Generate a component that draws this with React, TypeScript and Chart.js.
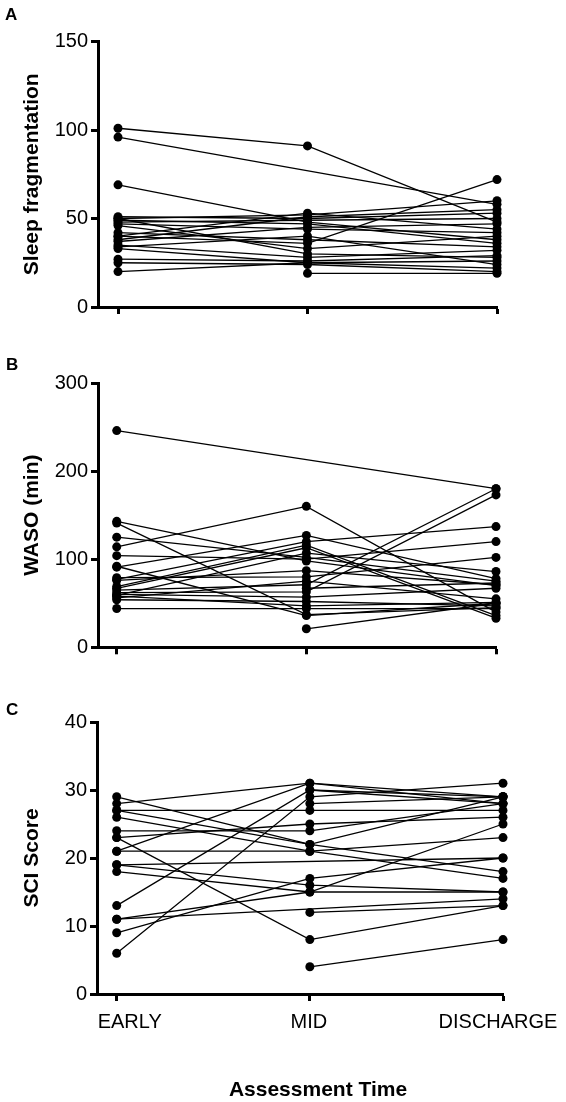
import React, { useEffect, useRef } from "react";
import { Chart, registerables } from "chart.js";

Chart.register(...registerables);

// ---------- DATA ----------
const timeLabels = ["EARLY", "MID", "DISCHARGE"];

// Panel A: Sleep fragmentation (one entry per participant)
const fragEarly = [101, 96, 69, 51, 50, 50, 49, 48, 47, 46, 42, 40, 40, 38, 37, 35, 34, 33, 27, 25, 20, null];
const fragMid = [91, null, 48, 50, 30, 52, 47, 49, 44, 33, 38, 36, 53, 51, 45, 28, 40, 25, 26, 24, 25, 19];
const fragDischarge = [48, 58, 38, 53, 28, 60, 36, 50, 42, 40, 34, 72, 44, 55, 47, 32, 24, 22, 29, 20, 26, 19];

// Panel B: WASO (min)
const wasoEarly = [246, 143, 141, 125, 114, 104, 91, 92, 79, 77, 69, 65, 62, 59, 56, 54, 44, 60, 76, 67, 58, null, null];
const wasoMid = [null, 98, 37, 102, 160, 100, 127, 36, 80, 120, 116, 71, 63, 107, 75, 52, 44, 57, 87, 113, 47, 21, 67];
const wasoDischarge = [180, 70, 45, 75, 40, 120, 78, 50, 102, 137, 36, 180, 173, 86, 55, 47, 44, 67, 71, 33, 51, 50, 73];

// Panel C: SCI score
const sciEarly = [28, 29, 27, 27, 26, 24, 23, 23, 21, 21, 19, 19, 18, 13, 11, 11, 9, 6, null, null, null, null];
const sciMid = [31, 22, 27, 22, 21, 24, 25, 8, 31, 21, null, 16, 15, 30, 15, null, 17, 29, 12, 4, 28, 30];
const sciDischarge = [29, 18, 27, 29, 17, 28, 26, 13, 28, 23, 20, 15, 15, 29, 25, 14, 20, 31, 13, 8, 29, 28];

// ---------- STYLE / LAYOUT ----------
const FONT = '"Liberation Sans", Arial, Helvetica, sans-serif';
const W = 566;

type Series = (number | null)[];

interface PanelProps {
  top: number;
  height: number;
  axisLeft: number;
  axisRight: number;
  plotTop: number;
  plotBottom: number;
  yMax: number;
  yStep: number;
  xMin: number;
  yTitle: string;
  early: Series;
  mid: Series;
  discharge: Series;
  showX: boolean;
}

function Panel(p: PanelProps) {
  const ref = useRef<HTMLCanvasElement | null>(null);

  useEffect(() => {
    const canvas = ref.current;
    if (!canvas) return;

    const datasets = p.early.map((_, i) => {
      const vals = [p.early[i], p.mid[i], p.discharge[i]];
      const pts = vals
        .map((v, k) => (v == null ? null : { x: k, y: v }))
        .filter((d) => d !== null) as { x: number; y: number }[];
      return {
        data: pts,
        borderColor: "#000",
        backgroundColor: "#000",
        borderWidth: 1.3,
        pointRadius: 4.5,
        pointBorderWidth: 0,
        pointBackgroundColor: "#000",
        pointHoverRadius: 4.5,
        tension: 0,
        fill: false,
        clip: false as any,
      };
    });

    const xH = p.showX ? p.height - p.plotBottom : 10;

    const plugins: any[] = [];
    if (p.showX) {
      const shifts = [13, -1, -5];
      plugins.push({
        id: "xLabels",
        afterDraw(chart: any) {
          const ctx = chart.ctx;
          const xs = chart.scales.x;
          ctx.save();
          ctx.fillStyle = "#000";
          ctx.textAlign = "center";
          ctx.textBaseline = "middle";
          ctx.font = `20px ${FONT}`;
          timeLabels.forEach((l, i) => {
            ctx.fillText(l, xs.getPixelForValue(i) + shifts[i], 332);
          });
          ctx.font = `bold 21px ${FONT}`;
          ctx.fillText("Assessment Time", 318, 400);
          ctx.restore();
        },
      });
    }

    const chart = new Chart(canvas, {
      type: "line",
      data: { datasets: datasets as any },
      options: {
        animation: false,
        responsive: false,
        maintainAspectRatio: false,
        events: [],
        layout: {
          padding: {
            left: 0,
            top: p.plotTop,
            right: W - p.axisRight,
            bottom: p.height - p.plotBottom - xH,
          },
        },
        plugins: {
          legend: { display: false },
          tooltip: { enabled: false },
        },
        scales: {
          x: {
            type: "linear",
            min: p.xMin,
            max: 2,
            afterBuildTicks: (s: any) => {
              s.ticks = [{ value: 0 }, { value: 1 }, { value: 2 }];
            },
            ticks: { display: false },
            grid: {
              drawOnChartArea: false,
              drawTicks: true,
              tickLength: 7,
              tickWidth: 3,
              tickColor: "#000",
              color: "#000",
            },
            border: { display: true, width: 3, color: "#000" },
            afterFit: (s: any) => {
              s.height = xH;
              s.paddingLeft = 0;
              s.paddingRight = 0;
            },
          },
          y: {
            type: "linear",
            min: 0,
            max: p.yMax,
            ticks: {
              stepSize: p.yStep,
              color: "#000",
              font: { family: FONT, size: 20 },
              padding: 3,
            },
            grid: {
              drawOnChartArea: false,
              drawTicks: true,
              tickLength: 7,
              tickWidth: 3,
              tickColor: "#000",
              color: "#000",
            },
            border: { display: true, width: 3, color: "#000" },
            title: {
              display: true,
              text: p.yTitle,
              color: "#000",
              font: { family: FONT, size: 21, weight: "bold" },
              padding: { top: 20, bottom: 0 },
            },
            afterFit: (s: any) => {
              s.width = p.axisLeft;
            },
          },
        },
      } as any,
      plugins,
    });

    return () => chart.destroy();
  }, []);

  return (
    <canvas
      ref={ref}
      width={W}
      height={p.height}
      style={{ position: "absolute", left: 0, top: p.top, width: W, height: p.height }}
    />
  );
}

const letterStyle: React.CSSProperties = {
  position: "absolute",
  font: `bold 17px ${FONT}`,
  lineHeight: "17px",
  color: "#000",
};

export default function App() {
  return (
    <div
      style={{
        position: "absolute",
        left: 0,
        top: 0,
        width: W,
        height: 1102,
        background: "#fff",
        overflow: "hidden",
      }}
    >
      <Panel
        top={0}
        height={330}
        axisLeft={98}
        axisRight={497}
        plotTop={41.5}
        plotBottom={307}
        yMax={150}
        yStep={50}
        xMin={-0.1056}
        yTitle="Sleep fragmentation"
        early={fragEarly}
        mid={fragMid}
        discharge={fragDischarge}
        showX={false}
      />
      <Panel
        top={330}
        height={360}
        axisLeft={98}
        axisRight={496}
        plotTop={53}
        plotBottom={317.3}
        yMax={300}
        yStep={100}
        xMin={-0.0987}
        yTitle="WASO (min)"
        early={wasoEarly}
        mid={wasoMid}
        discharge={wasoDischarge}
        showX={false}
      />
      <Panel
        top={690}
        height={412}
        axisLeft={97}
        axisRight={503}
        plotTop={32}
        plotBottom={304}
        yMax={40}
        yStep={10}
        xMin={-0.102}
        yTitle="SCI Score"
        early={sciEarly}
        mid={sciMid}
        discharge={sciDischarge}
        showX={true}
      />
      <div style={{ ...letterStyle, left: 5, top: 6 }}>A</div>
      <div style={{ ...letterStyle, left: 6, top: 356 }}>B</div>
      <div style={{ ...letterStyle, left: 6, top: 701 }}>C</div>
    </div>
  );
}
